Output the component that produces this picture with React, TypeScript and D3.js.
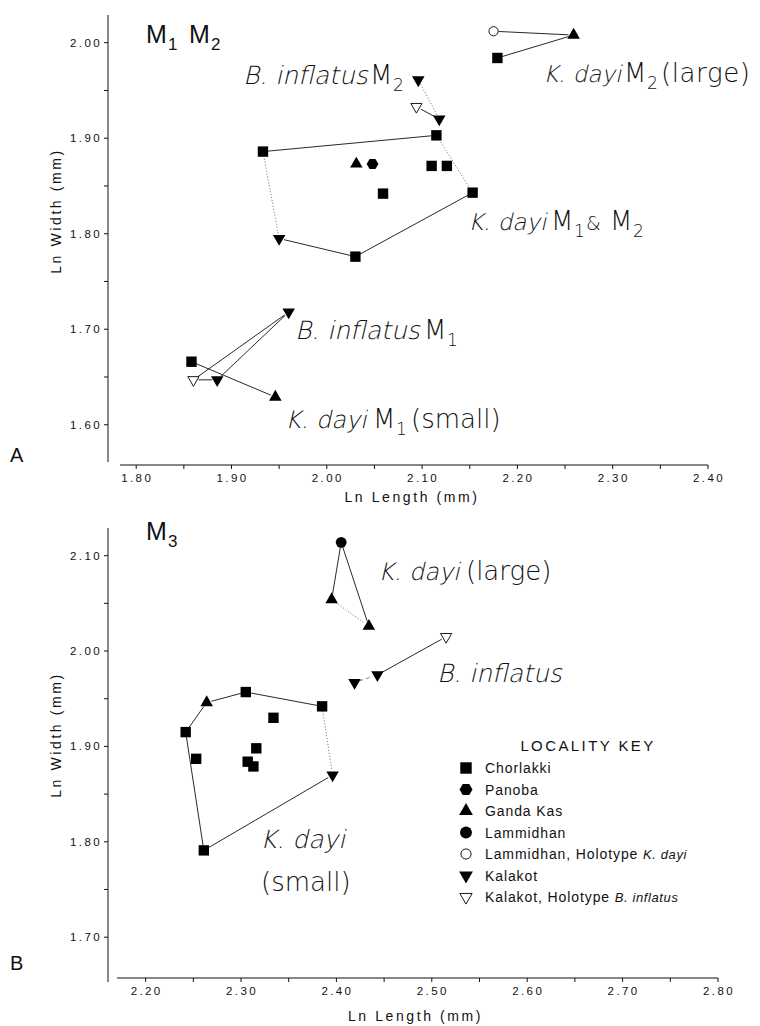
import React from "react";
import * as d3 from "d3";

// ---------- DATA ----------
type Pt = { id: string; length: number; width: number; loc: string };

const LOCALITY_KEY = [
  { loc: "Chorlakki", label: "Chorlakki", italic: "" },
  { loc: "Panoba", label: "Panoba", italic: "" },
  { loc: "Ganda Kas", label: "Ganda Kas", italic: "" },
  { loc: "Lammidhan", label: "Lammidhan", italic: "" },
  { loc: "Lammidhan Holotype", label: "Lammidhan, Holotype ", italic: "K. dayi" },
  { loc: "Kalakot", label: "Kalakot", italic: "" },
  { loc: "Kalakot Holotype", label: "Kalakot, Holotype  ", italic: "B. inflatus" },
];

// Panel A: M1 M2 (Ln Length, Ln Width in mm)
const panelAPoints: Pt[] = [
  { id: "a1", length: 1.933, width: 1.886, loc: "Chorlakki" },
  { id: "a2", length: 2.115, width: 1.903, loc: "Chorlakki" },
  { id: "a3", length: 2.153, width: 1.843, loc: "Chorlakki" },
  { id: "a4", length: 2.03, width: 1.776, loc: "Chorlakki" },
  { id: "a5", length: 1.95, width: 1.795, loc: "Kalakot" },
  { id: "a6", length: 2.031, width: 1.873, loc: "Ganda Kas" },
  { id: "a7", length: 2.048, width: 1.873, loc: "Panoba" },
  { id: "a8", length: 2.059, width: 1.842, loc: "Chorlakki" },
  { id: "a9", length: 2.11, width: 1.871, loc: "Chorlakki" },
  { id: "a10", length: 2.126, width: 1.871, loc: "Chorlakki" },
  { id: "a11", length: 2.096, width: 1.961, loc: "Kalakot" },
  { id: "a12", length: 2.094, width: 1.933, loc: "Kalakot Holotype" },
  { id: "a13", length: 2.118, width: 1.92, loc: "Kalakot" },
  { id: "a14", length: 2.175, width: 2.012, loc: "Lammidhan Holotype" },
  { id: "a15", length: 2.259, width: 2.008, loc: "Ganda Kas" },
  { id: "a16", length: 2.179, width: 1.984, loc: "Chorlakki" },
  { id: "a17", length: 1.858, width: 1.666, loc: "Chorlakki" },
  { id: "a18", length: 1.86, width: 1.647, loc: "Kalakot Holotype" },
  { id: "a19", length: 1.885, width: 1.647, loc: "Kalakot" },
  { id: "a20", length: 1.96, width: 1.718, loc: "Kalakot" },
  { id: "a21", length: 1.946, width: 1.629, loc: "Ganda Kas" },
];
const panelASegments: [string, string, string][] = [
  ["a1", "a2", "solid"],
  ["a2", "a3", "dotted"],
  ["a3", "a4", "solid"],
  ["a4", "a5", "solid"],
  ["a5", "a1", "dotted"],
  ["a11", "a13", "dotted"],
  ["a12", "a13", "solid"],
  ["a14", "a15", "solid"],
  ["a15", "a16", "solid"],
  ["a18", "a20", "solid"],
  ["a19", "a20", "solid"],
  ["a18", "a19", "solid"],
  ["a17", "a21", "solid"],
];

// Panel B: M3
const panelBPoints: Pt[] = [
  { id: "b1", length: 2.405, width: 2.114, loc: "Lammidhan" },
  { id: "b2", length: 2.395, width: 2.054, loc: "Ganda Kas" },
  { id: "b3", length: 2.434, width: 2.026, loc: "Ganda Kas" },
  { id: "b4", length: 2.515, width: 2.015, loc: "Kalakot Holotype" },
  { id: "b5", length: 2.419, width: 1.967, loc: "Kalakot" },
  { id: "b6", length: 2.443, width: 1.975, loc: "Kalakot" },
  { id: "b7", length: 2.242, width: 1.915, loc: "Chorlakki" },
  { id: "b8", length: 2.264, width: 1.946, loc: "Ganda Kas" },
  { id: "b9", length: 2.305, width: 1.957, loc: "Chorlakki" },
  { id: "b10", length: 2.385, width: 1.942, loc: "Chorlakki" },
  { id: "b11", length: 2.396, width: 1.87, loc: "Kalakot" },
  { id: "b12", length: 2.261, width: 1.791, loc: "Chorlakki" },
  { id: "b13", length: 2.253, width: 1.887, loc: "Chorlakki" },
  { id: "b14", length: 2.334, width: 1.93, loc: "Chorlakki" },
  { id: "b15", length: 2.316, width: 1.898, loc: "Chorlakki" },
  { id: "b16", length: 2.307, width: 1.884, loc: "Chorlakki" },
  { id: "b17", length: 2.313, width: 1.879, loc: "Chorlakki" },
];
const panelBSegments: [string, string, string][] = [
  ["b1", "b2", "solid"],
  ["b1", "b3", "solid"],
  ["b2", "b3", "dotted"],
  ["b5", "b6", "dashed"],
  ["b6", "b4", "solid"],
  ["b7", "b8", "solid"],
  ["b8", "b9", "solid"],
  ["b9", "b10", "solid"],
  ["b10", "b11", "dotted"],
  ["b11", "b12", "solid"],
  ["b12", "b7", "solid"],
];

const A_X_TICKS = [1.8, 1.9, 2.0, 2.1, 2.2, 2.3, 2.4];
const A_X_MINOR = [1.85, 1.95, 2.05, 2.15, 2.25, 2.35];
const A_Y_TICKS = [1.6, 1.7, 1.8, 1.9, 2.0];
const A_Y_MINOR = [1.65, 1.75, 1.85, 1.95];
const B_X_TICKS = [2.2, 2.3, 2.4, 2.5, 2.6, 2.7, 2.8];
const B_X_MINOR = [2.25, 2.35, 2.45, 2.55, 2.65, 2.75];
const B_Y_TICKS = [1.7, 1.8, 1.9, 2.0, 2.1];
const B_Y_MINOR = [1.75, 1.85, 1.95, 2.05];

// ---------- STYLE ----------
const LABEL_FONT = "'DejaVu Sans', sans-serif";
const AXIS_FONT = "'Liberation Sans', Arial, sans-serif";

const symbolFor: Record<string, string> = {
  Chorlakki: "square",
  Panoba: "hexagon",
  "Ganda Kas": "triangle",
  Lammidhan: "circle",
  "Lammidhan Holotype": "openCircle",
  Kalakot: "down",
  "Kalakot Holotype": "openDown",
};

function Marker({ loc, x, y, s = 1 }: { loc: string; x: number; y: number; s?: number }) {
  const kind = symbolFor[loc];
  const t = `translate(${x},${y})`;
  if (kind === "square") {
    return <path transform={t} d={d3.symbol(d3.symbolSquare, 108 * s * s)()!} fill="#000" />;
  }
  if (kind === "triangle") {
    return <path transform={t} d={d3.symbol(d3.symbolTriangle, 68 * s * s)()!} fill="#000" />;
  }
  if (kind === "down") {
    return <path transform={`${t} rotate(180)`} d={d3.symbol(d3.symbolTriangle, 68 * s * s)()!} fill="#000" />;
  }
  if (kind === "openDown") {
    return (
      <path
        transform={`${t} rotate(180)`}
        d={d3.symbol(d3.symbolTriangle, 54 * s * s)()!}
        fill="#fff"
        stroke="#000"
        strokeWidth={0.9}
      />
    );
  }
  if (kind === "circle") {
    return <circle cx={x} cy={y} r={5.4 * s} fill="#000" />;
  }
  if (kind === "openCircle") {
    return <circle cx={x} cy={y} r={4.6 * s} fill="#fff" stroke="#000" strokeWidth={0.9} />;
  }
  const r = 5.9 * s;
  const pts = d3.range(6).map((i) => {
    const a = (Math.PI / 3) * i;
    return [x + r * Math.cos(a), y + r * Math.sin(a)] as [number, number];
  });
  return <path d={d3.line()(pts)! + "Z"} fill="#000" />;
}

function Segments({ points, segments, xs, ys }: any) {
  const byId: Record<string, Pt> = {};
  points.forEach((p: Pt) => (byId[p.id] = p));
  return (
    <g>
      {segments.map(([a, b, style]: [string, string, string], i: number) => {
        const p = byId[a];
        const q = byId[b];
        let x1 = xs(p.length), y1 = ys(p.width), x2 = xs(q.length), y2 = ys(q.width);
        const dx = x2 - x1, dy = y2 - y1;
        const len = Math.hypot(dx, dy);
        const g = 5;
        const ux = dx / len, uy = dy / len;
        x1 += ux * g; y1 += uy * g; x2 -= ux * g; y2 -= uy * g;
        return (
          <line
            key={i}
            x1={x1}
            y1={y1}
            x2={x2}
            y2={y2}
            stroke={style === "solid" ? "#111" : "#666"}
            strokeWidth={style === "solid" ? 0.9 : 0.8}
            strokeDasharray={style === "dotted" ? "1.2,1.8" : style === "dashed" ? "4,3" : undefined}
          />
        );
      })}
    </g>
  );
}

function Axes({ xs, ys, xTicks, xMinor, yTicks, yMinor, xAxisY, yAxisX, xTitleY, yTitleY }: any) {
  const [x0, x1] = xs.range();
  const [y0, y1] = ys.range();
  return (
    <g fontFamily={AXIS_FONT} fill="#111">
      <line x1={x0} x2={x1} y1={xAxisY} y2={xAxisY} stroke="#111" strokeWidth={1} />
      {[...xTicks, ...xMinor].map((v: number) => (
        <line key={"xt" + v} x1={xs(v)} x2={xs(v)} y1={xAxisY} y2={xAxisY + 4} stroke="#111" strokeWidth={1} />
      ))}
      {xTicks.map((v: number) => (
        <text key={"xl" + v} x={xs(v) + 1} y={xAxisY + 17} fontSize={11.5} letterSpacing={2.4} textAnchor="middle">
          {v.toFixed(2)}
        </text>
      ))}
      <text x={(x0 + x1) / 2 - 2} y={xTitleY} fontSize={14} letterSpacing={2.6} textAnchor="middle">
        Ln Length (mm)
      </text>
      <line x1={yAxisX} x2={yAxisX} y1={y0} y2={y1} stroke="#111" strokeWidth={1} />
      {[...yTicks, ...yMinor].map((v: number) => (
        <line key={"yt" + v} x1={yAxisX - 4} x2={yAxisX} y1={ys(v)} y2={ys(v)} stroke="#111" strokeWidth={1} />
      ))}
      {yTicks.map((v: number) => (
        <text key={"yl" + v} x={yAxisX - 6} y={ys(v) + 4} fontSize={11.5} letterSpacing={2.4} textAnchor="end">
          {v.toFixed(2)}
        </text>
      ))}
      <text transform={`translate(61,${yTitleY}) rotate(-90)`} fontSize={14} letterSpacing={2.6} textAnchor="middle">
        Ln Width (mm)
      </text>
    </g>
  );
}

// light oblique text (synthesised by skewing the light upright face)
function Ob({ x, y, size, children }: any) {
  return (
    <text
      transform={`translate(${x},${y}) skewX(-13)`}
      fontFamily={LABEL_FONT}
      fontWeight={200}
      fontSize={size}
      fill="#111"
    >
      {children}
    </text>
  );
}
function Up({ x, y, size, children, ls = 0 }: any) {
  return (
    <text x={x} y={y} fontFamily={LABEL_FONT} fontWeight={200} fontSize={size} letterSpacing={ls} fill="#111">
      {children}
    </text>
  );
}

export default function App() {
  const xsA = d3.scaleLinear().domain([1.783, 2.4]).range([120, 708]);
  const ysA = d3.scaleLinear().domain([1.561, 2.029]).range([462, 15]);
  const xsB = d3.scaleLinear().domain([2.17, 2.8]).range([117, 718]);
  const ysB = d3.scaleLinear().domain([1.653, 2.129]).range([982, 528]);

  const U = 26; // upright size
  const S = 17; // subscript size

  return (
    <svg width={760} height={1026} style={{ position: "absolute", left: 0, top: 0, background: "#fff" }}>
      <rect width={760} height={1026} fill="#fff" />

      {/* ---------- Panel A ---------- */}
      <Axes
        xs={xsA}
        ys={ysA}
        xTicks={A_X_TICKS}
        xMinor={A_X_MINOR}
        yTicks={A_Y_TICKS}
        yMinor={A_Y_MINOR}
        xAxisY={465}
        yAxisX={108}
        xTitleY={502}
        yTitleY={211}
      />
      <Segments points={panelAPoints} segments={panelASegments} xs={xsA} ys={ysA} />
      {panelAPoints.map((p) => (
        <Marker key={p.id} loc={p.loc} x={xsA(p.length)} y={ysA(p.width)} />
      ))}

      <text x={10} y={462} fontFamily={AXIS_FONT} fontSize={20} fill="#111">A</text>
      <g fontFamily={AXIS_FONT} fill="#111">
        <text x={146} y={43} fontSize={25}>M</text>
        <text x={168} y={50} fontSize={17}>1</text>
        <text x={189} y={43} fontSize={25}>M</text>
        <text x={211} y={50} fontSize={17}>2</text>
      </g>

      {/* B. inflatus M2 */}
      <Ob x={243} y={84} size={25}>B. inflatus</Ob>
      <Up x={370} y={84} size={U}>M</Up>
      <Up x={393} y={91} size={S}>2</Up>

      {/* K. dayi M2 (large) */}
      <Ob x={543} y={82} size={23}>K. dayi</Ob>
      <Up x={624} y={82} size={U}>M</Up>
      <Up x={647} y={89} size={S}>2</Up>
      <Up x={661} y={82} size={U} ls={0.6}>(large)</Up>

      {/* K. dayi M1 & M2 */}
      <Ob x={468} y={230} size={23}>K. dayi</Ob>
      <Up x={551} y={230} size={U}>M</Up>
      <Up x={574} y={237} size={S}>1</Up>
      <Up x={586} y={230} size={19}>&amp;</Up>
      <Up x={610} y={230} size={U}>M</Up>
      <Up x={633} y={237} size={S}>2</Up>

      {/* B. inflatus M1 */}
      <Ob x={295} y={339} size={25}>B. inflatus</Ob>
      <Up x={424} y={339} size={U}>M</Up>
      <Up x={447} y={346} size={S}>1</Up>

      {/* K. dayi M1 (small) */}
      <Ob x={285} y={428} size={24}>K. dayi</Ob>
      <Up x={373} y={428} size={U}>M</Up>
      <Up x={396} y={435} size={S}>1</Up>
      <Up x={411} y={428} size={U}>(small)</Up>

      {/* ---------- Panel B ---------- */}
      <Axes
        xs={xsB}
        ys={ysB}
        xTicks={B_X_TICKS}
        xMinor={B_X_MINOR}
        yTicks={B_Y_TICKS}
        yMinor={B_Y_MINOR}
        xAxisY={978}
        yAxisX={108}
        xTitleY={1021}
        yTitleY={735}
      />
      <Segments points={panelBPoints} segments={panelBSegments} xs={xsB} ys={ysB} />
      {panelBPoints.map((p) => (
        <Marker key={p.id} loc={p.loc} x={xsB(p.length)} y={ysB(p.width)} />
      ))}

      <text x={10} y={970} fontFamily={AXIS_FONT} fontSize={20} fill="#111">B</text>
      <g fontFamily={AXIS_FONT} fill="#111">
        <text x={146} y={540} fontSize={25}>M</text>
        <text x={168} y={547} fontSize={17}>3</text>
      </g>

      <Ob x={378} y={580} size={24}>K. dayi</Ob>
      <Up x={466} y={580} size={U}>(large)</Up>
      <Ob x={437} y={682} size={25}>B. inflatus</Ob>
      <Ob x={260} y={848} size={25}>K. dayi</Ob>
      <Up x={261} y={891} size={U}>(small)</Up>

      {/* ---------- Legend ---------- */}
      <g fontFamily={AXIS_FONT} fill="#111">
        <text x={588} y={751} fontSize={15} letterSpacing={2.4} textAnchor="middle">
          LOCALITY KEY
        </text>
        {LOCALITY_KEY.map((d, i) => {
          const cy = 768 + i * 21.5;
          return (
            <g key={d.loc}>
              <Marker loc={d.loc} x={466} y={cy} s={1.1} />
              <text x={485} y={cy + 5} fontSize={14} letterSpacing={0.9}>
                {d.label}
                {d.italic ? (
                  <tspan fontStyle="italic" fontSize={13} letterSpacing={0.6}>
                    {d.italic}
                  </tspan>
                ) : null}
              </text>
            </g>
          );
        })}
      </g>
    </svg>
  );
}
